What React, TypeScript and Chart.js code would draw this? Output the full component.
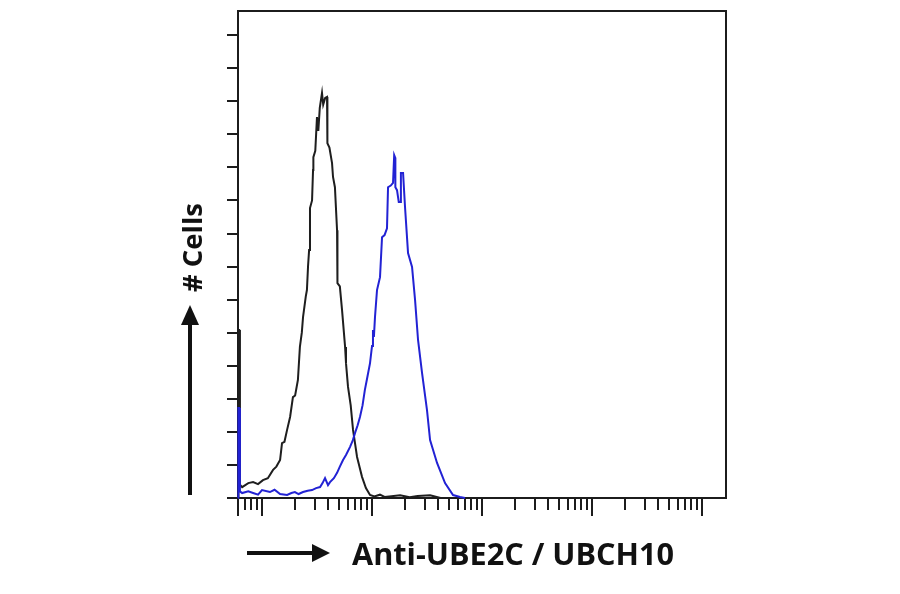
import React, { useEffect, useRef } from "react";
import { Chart, registerables } from "chart.js";

Chart.register(...registerables);

// Isotype control (black) histogram: fluorescence intensity vs. # cells
const controlIntensity = [6.08, 6.1, 6.2, 6.3, 6.6, 7.5, 8.3, 9.2, 10.2, 11.3, 12.6, 13.5, 14.6, 15.2, 16.0, 16.9, 18.0, 19.1, 20.0, 21.2, 22.1, 23.0, 23.6, 25.0, 25.6, 26.2, 26.8, 27.3, 28.5, 29.1, 29.3, 30.5, 31.6, 32.5, 33.5, 35.1, 36.0, 37.5, 39.0, 39.3, 41.0, 43.3, 44.2, 46.0, 48.1, 48.5, 51.0, 53.4, 56.9, 58.0, 60.5, 64.0, 67.2, 73.1, 81.1, 88.0, 95.9, 105, 118, 130, 150, 180, 220, 260, 337, 420];
const controlCells = [0, 5.08, 5.08, 0.4, 0.33, 0.45, 0.48, 0.42, 0.54, 0.6, 0.85, 0.95, 1.15, 1.66, 1.7, 2.06, 2.45, 3.05, 3.1, 3.57, 4.57, 5.0, 5.47, 6.1, 6.29, 7.0, 7.5, 8.77, 9.0, 9.92, 10.31, 10.5, 11.52, 11.1, 11.8, 12.25, 11.9, 12.1, 12.13, 10.73, 10.6, 10.13, 9.71, 9.4, 8.1, 6.5, 6.4, 5.68, 4.57, 4.08, 3.36, 2.8, 2.06, 1.24, 0.64, 0.3, 0.09, 0.05, 0.1, 0.03, 0.05, 0.08, 0.02, 0.06, 0.08, 0];

// Anti-UBE2C / UBCH10 stained (blue) histogram
const stainedIntensity = [6.08, 6.1, 6.2, 6.3, 6.6, 7.5, 8.3, 9.2, 10, 11.8, 13, 14.6, 16.9, 18.5, 19.9, 21.5, 23.6, 26, 28.5, 31, 33.7, 35.5, 37.4, 39.8, 41.5, 45, 48.1, 51, 54.5, 58, 63, 67, 70.1, 74, 77.7, 82, 86.1, 90, 95.9, 100, 102, 104, 106.4, 111, 118.2, 123.3, 130, 136.8, 139.8, 148, 155.2, 159, 162, 163, 168.7, 175, 179.8, 183, 191.5, 199.5, 212.5, 231.1, 246.1, 262, 285, 316, 337, 390, 461, 545, 631, 700];
const stainedCells = [0, 2.72, 2.72, 0.2, 0.15, 0.2, 0.15, 0.1, 0.24, 0.18, 0.25, 0.12, 0.09, 0.15, 0.18, 0.12, 0.18, 0.22, 0.24, 0.3, 0.33, 0.45, 0.6, 0.39, 0.48, 0.6, 0.76, 0.95, 1.15, 1.3, 1.54, 1.75, 1.97, 2.2, 2.45, 2.8, 3.27, 3.6, 4.08, 4.6, 5.08, 4.87, 5.47, 6.29, 6.68, 7.89, 7.95, 8.16, 9.4, 9.45, 9.53, 10.37, 10.3, 9.4, 9.31, 8.95, 8.95, 9.83, 9.83, 8.8, 7.41, 6.99, 5.99, 4.78, 3.78, 2.66, 1.75, 1.06, 0.45, 0.09, 0.03, 0];

// Axis ticks (no labels shown in the reference)
const yTickValues = [0, 1, 2, 3, 4, 5, 6, 7, 8, 9, 10, 11, 12, 13, 14];
const xMajorTicks = [10, 100, 1000, 10000, 100000];
const xMinorTicks = [
  7, 8, 9,
  20, 30, 40, 50, 60, 70, 80, 90,
  200, 300, 400, 500, 600, 700, 800, 900,
  2000, 3000, 4000, 5000, 6000, 7000, 8000, 9000,
  20000, 30000, 40000, 50000, 60000, 70000, 80000, 90000,
];
const xMin = 6.05;
const xMax = 165000;
const yMax = 14.73;

const xTitle = "Anti-UBE2C / UBCH10";
const yTitle = "# Cells";

const AXIS_COLOR = "#1c1c1c";

function drawFitText(ctx: CanvasRenderingContext2D, text: string, font: string, width: number) {
  ctx.font = font;
  const w = ctx.measureText(text).width;
  ctx.scale(width / w, 1);
  ctx.fillText(text, 0, 0);
}

const flowAxesPlugin = {
  id: "flowAxes",
  beforeDatasetsDraw(chart: any) {
    const { ctx, chartArea: a, scales } = chart;
    const x = scales.x;
    const y = scales.y;
    ctx.save();
    ctx.strokeStyle = AXIS_COLOR;
    ctx.lineWidth = 2;
    ctx.lineCap = "butt";
    ctx.strokeRect(a.left, a.top, a.right - a.left, a.bottom - a.top);
    ctx.beginPath();
    // y ticks (outward, left)
    for (const t of yTickValues) {
      const py = Math.round(y.getPixelForValue(t));
      ctx.moveTo(a.left - 11, py);
      ctx.lineTo(a.left, py);
    }
    // x minor ticks
    for (const t of xMinorTicks) {
      const px = Math.round(x.getPixelForValue(t));
      ctx.moveTo(px, a.bottom);
      ctx.lineTo(px, a.bottom + 12);
    }
    // x major ticks + axis start
    for (const t of [xMin, ...xMajorTicks]) {
      const px = Math.round(x.getPixelForValue(t));
      ctx.moveTo(px, a.bottom);
      ctx.lineTo(px, a.bottom + 18);
    }
    ctx.stroke();
    ctx.restore();
  },
  afterDraw(chart: any) {
    const { ctx, chartArea: a } = chart;
    ctx.save();
    ctx.fillStyle = "#111";
    ctx.strokeStyle = "#111";
    ctx.lineWidth = 4;

    // X arrow
    const ay = a.bottom + 55;
    const ax0 = a.left + 9;
    const ax1 = a.left + 92;
    ctx.beginPath();
    ctx.moveTo(ax0, ay);
    ctx.lineTo(ax1 - 14, ay);
    ctx.stroke();
    ctx.beginPath();
    ctx.moveTo(ax1, ay);
    ctx.lineTo(ax1 - 18, ay - 9);
    ctx.lineTo(ax1 - 18, ay + 9);
    ctx.closePath();
    ctx.fill();

    // X title
    ctx.save();
    ctx.textBaseline = "alphabetic";
    ctx.translate(a.left + 114, a.bottom + 67);
    drawFitText(ctx, xTitle, 'bold 30px "Open Sans"', 322);
    ctx.restore();

    // Y arrow
    const yx = a.left - 48;
    const yy0 = a.bottom - 3;
    const yy1 = a.top + 294;
    ctx.beginPath();
    ctx.moveTo(yx, yy0);
    ctx.lineTo(yx, yy1 + 16);
    ctx.stroke();
    ctx.beginPath();
    ctx.moveTo(yx, yy1);
    ctx.lineTo(yx - 9, yy1 + 20);
    ctx.lineTo(yx + 9, yy1 + 20);
    ctx.closePath();
    ctx.fill();

    // Y title
    ctx.save();
    ctx.translate(a.left - 36, a.top + 281);
    ctx.rotate(-Math.PI / 2);
    drawFitText(ctx, yTitle, 'bold 27px "Open Sans"', 89);
    ctx.restore();

    ctx.restore();
  },
};

export default function App() {
  const canvasRef = useRef<HTMLCanvasElement | null>(null);

  useEffect(() => {
    const canvas = canvasRef.current;
    if (!canvas) return;
    const chart = new Chart(canvas, {
      type: "line",
      data: {
        datasets: [
          {
            label: "Control",
            data: controlIntensity.map((v, i) => ({ x: v, y: controlCells[i] })),
            borderColor: "#1e1e1e",
            borderWidth: 2,
            pointRadius: 0,
            tension: 0,
            fill: false,
            clip: false,
            order: 2,
          },
          {
            label: "Anti-UBE2C",
            data: stainedIntensity.map((v, i) => ({ x: v, y: stainedCells[i] })),
            borderColor: "#2222d4",
            borderWidth: 2,
            pointRadius: 0,
            tension: 0,
            fill: false,
            clip: false,
            order: 1,
          },
        ],
      },
      options: {
        responsive: false,
        animation: false,
        devicePixelRatio: 1,
        layout: { padding: { left: 238, right: 174, top: 11, bottom: 96 } },
        plugins: { legend: { display: false }, tooltip: { enabled: false }, title: { display: false } },
        scales: {
          x: { type: "logarithmic", min: xMin, max: xMax, display: false },
          y: { type: "linear", min: 0, max: yMax, display: false },
        },
      },
      plugins: [flowAxesPlugin],
    });
    return () => chart.destroy();
  }, []);

  return (
    <div style={{ position: "fixed", left: 0, top: 0, width: 900, height: 594, background: "#fff" }}>
      <canvas ref={canvasRef} width={900} height={594} style={{ width: 900, height: 594, display: "block" }} />
    </div>
  );
}
